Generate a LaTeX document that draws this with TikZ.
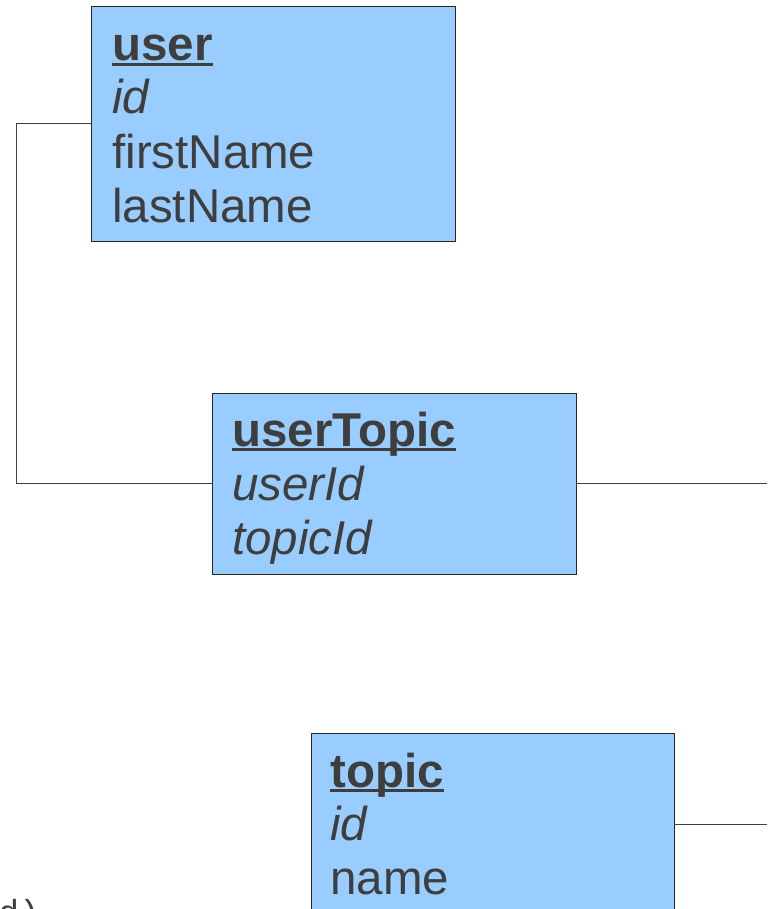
\documentclass[tikz,border=0pt]{standalone}
\usepackage{fontspec}
\setmainfont{Liberation Sans}
\newfontfamily\monofont{Liberation Mono}
\definecolor{boxfill}{HTML}{99CCFF}
\definecolor{txt}{HTML}{3E3E3E}
\newcommand\myul[1]{\setbox0\hbox{#1}\rlap{\rule[-3.6pt]{\wd0}{2.2pt}}\box0}
\tikzset{
  table/.style={draw=black!85, fill=boxfill, line width=0.75pt, anchor=north west, inner sep=0pt, outer sep=0pt},
  ftext/.style={anchor=base west, inner sep=0pt, text=txt, font=\fontsize{35.6}{40.5}\selectfont},
  link/.style={draw=black!75, line width=0.75pt}
}
\begin{document}
\begin{tikzpicture}[x=0.75pt,y=-0.75pt]
\useasboundingbox (0,0) rectangle (767,909);
\clip (0,0) rectangle (767,909);
% tables
\node[table, minimum width=273pt, minimum height=175.5pt] (user) at (91,7) {};
\node[table, minimum width=273pt, minimum height=135.75pt] (userTopic) at (212,393) {};
\node[table, minimum width=272.25pt, minimum height=136.5pt] (topic) at (311,733) {};
% texts of user
\node[ftext] (t1) at (112,61) {\textbf{\myul{user}}};
\node[ftext] (t2) at (112,114) {\textit{id}};
\node[ftext] (t3) at (112,169) {firstName};
\node[ftext] (t4) at (112,223) {lastName};
% texts of userTopic
\node[ftext] (t5) at (232,446) {\textbf{\myul{userTopic}}};
\node[ftext] (t6) at (232,500) {\textit{userId}};
\node[ftext] (t7) at (232,554) {\textit{topicId}};
% texts of topic
\node[ftext] (t8) at (330,787) {\textbf{\myul{topic}}};
\node[ftext] (t9) at (330,840) {\textit{id}};
\node[ftext] (t10) at (330,894) {name};
% clipped text at bottom left (cut by the edge, as in the reference)
\node[anchor=base west, inner sep=0pt, text=txt, font=\monofont\fontsize{26}{30}\selectfont] (frag) at (-2,924) {d)};
% connectors
\coordinate (c1) at (16,483.5);
\coordinate (e1) at (767,483.5);
\coordinate (e2) at (767,824);
\draw[link] (user.west) -| (c1) -- (userTopic.west);
\draw[link] (userTopic.east) -- (e1);
\draw[link] (topic.east) -- (e2);
\end{tikzpicture}
\end{document}
